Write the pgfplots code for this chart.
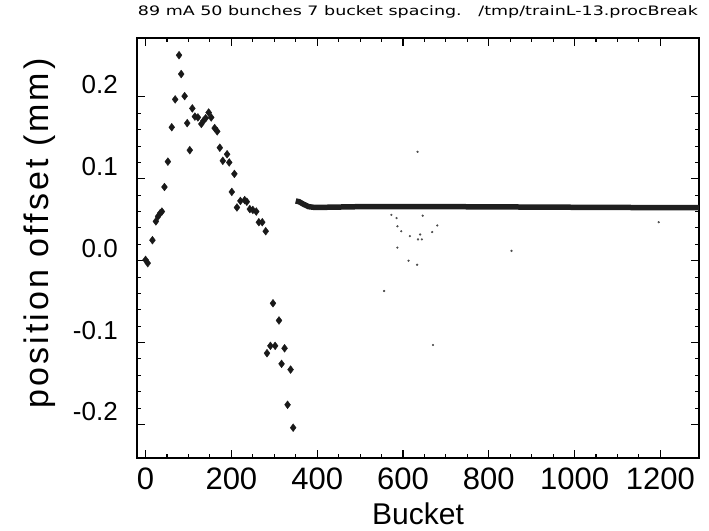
\documentclass[border=0pt]{standalone}
\usepackage{fontspec}
\setmainfont{Liberation Sans}
\newfontfamily\titlefont{DejaVu Sans}
\newfontfamily\labelfont[LetterSpace=9]{Liberation Sans}
\usepackage{pgfplots}
\pgfplotsset{compat=1.18}
\begin{document}
\begin{tikzpicture}
\useasboundingbox (-137bp,-73bp) rectangle (572bp,458bp);
\begin{axis}[
  scale only axis, width=562bp, height=420bp,
  xmin=-20, xmax=1290, ymin=-0.241, ymax=0.272,
  xtick={0,200,...,1200}, minor x tick num=3,
  ytick={-0.2,-0.1,0,0.1,0.2}, minor y tick num=4,
  tick align=inside,
  major tick length=8bp, minor tick length=4bp,
  axis line style={line width=1.6bp},
  every tick/.style={line width=1.1bp, black},
  /pgf/number format/assume math mode=true,
  xticklabel style={font=\fontsize{31bp}{31bp}\selectfont, anchor=base, inner sep=0pt, yshift=-31bp, /pgf/number format/1000 sep={}},
  yticklabel style={font=\fontsize{26bp}{26bp}\selectfont, anchor=base east, inner sep=0pt, xshift=-19bp, yshift=3.5bp,
    /pgf/number format/fixed, /pgf/number format/fixed zerofill, /pgf/number format/precision=1},
  xlabel={Bucket},
  xlabel style={font=\fontsize{30bp}{30bp}\selectfont, at={(axis description cs:0.5,-0.1595)}, anchor=base, inner sep=0pt},
  ylabel={position offset (mm)},
  ylabel style={font=\labelfont\fontsize{34bp}{34bp}\selectfont, at={(axis description cs:-0.1566,0.535)}, anchor=base, rotate=0, inner sep=0pt},
  title={\resizebox{560bp}{\height}{\titlefont\fontsize{13bp}{13bp}\selectfont 89 mA 50 bunches 7 bucket spacing.\ \ \ /tmp/trainL-13.procBreak}},
  title style={at={(axis description cs:0.5,1.0405)}, anchor=base, inner sep=0pt},
  clip=true,
]
% bunch-by-bunch offsets along the train
\addplot[only marks, mark=diamond*, mark size=3.9bp, color=black!90] coordinates {
(0,0.001) (5,-0.003) (16,0.025) (24,0.048) (29,0.054) (34,0.058) (38,0.060)
(44,0.090) (52,0.121) (61,0.163) (69,0.197) (78,0.251) (83,0.228) (91,0.201)
(97,0.168) (103,0.135) (109,0.186) (115,0.176) (122,0.175) (130,0.167) (135,0.171)
(140,0.174) (147,0.181) (153,0.175) (161,0.162) (167,0.158) (173,0.138) (180,0.122)
(190,0.130) (195,0.120) (201,0.084) (207,0.106) (213,0.065) (221,0.073) (231,0.074)
(236,0.072) (243,0.063) (250,0.062) (258,0.060) (264,0.047) (272,0.047) (280,0.036)
(283,-0.113) (291,-0.104) (297,-0.052) (302,-0.104) (311,-0.073) (317,-0.126)
(324,-0.107) (331,-0.176) (338,-0.133) (344,-0.204)
};
% empty buckets after the train
\addplot[line width=5.5bp, color=black!88, no marks] coordinates {
(350,0.073) (358,0.072) (368,0.069) (380,0.066) (395,0.065) (500,0.066)
(700,0.066) (900,0.0655) (1100,0.065) (1290,0.0648)
};
% isolated readings
\addplot[only marks, mark=*, mark size=0.9bp, color=black!70] coordinates {
(634,0.133) (573,0.056) (585,0.052) (587,0.042) (596,0.036) (616,0.030)
(640,0.032) (635,0.026) (644,0.026) (646,0.055) (668,0.035) (680,0.043)
(587,0.016) (613,0.000) (633,-0.005) (556,-0.037) (853,0.012) (1196,0.047)
(670,-0.103)
};
\end{axis}
\end{tikzpicture}
\end{document}
